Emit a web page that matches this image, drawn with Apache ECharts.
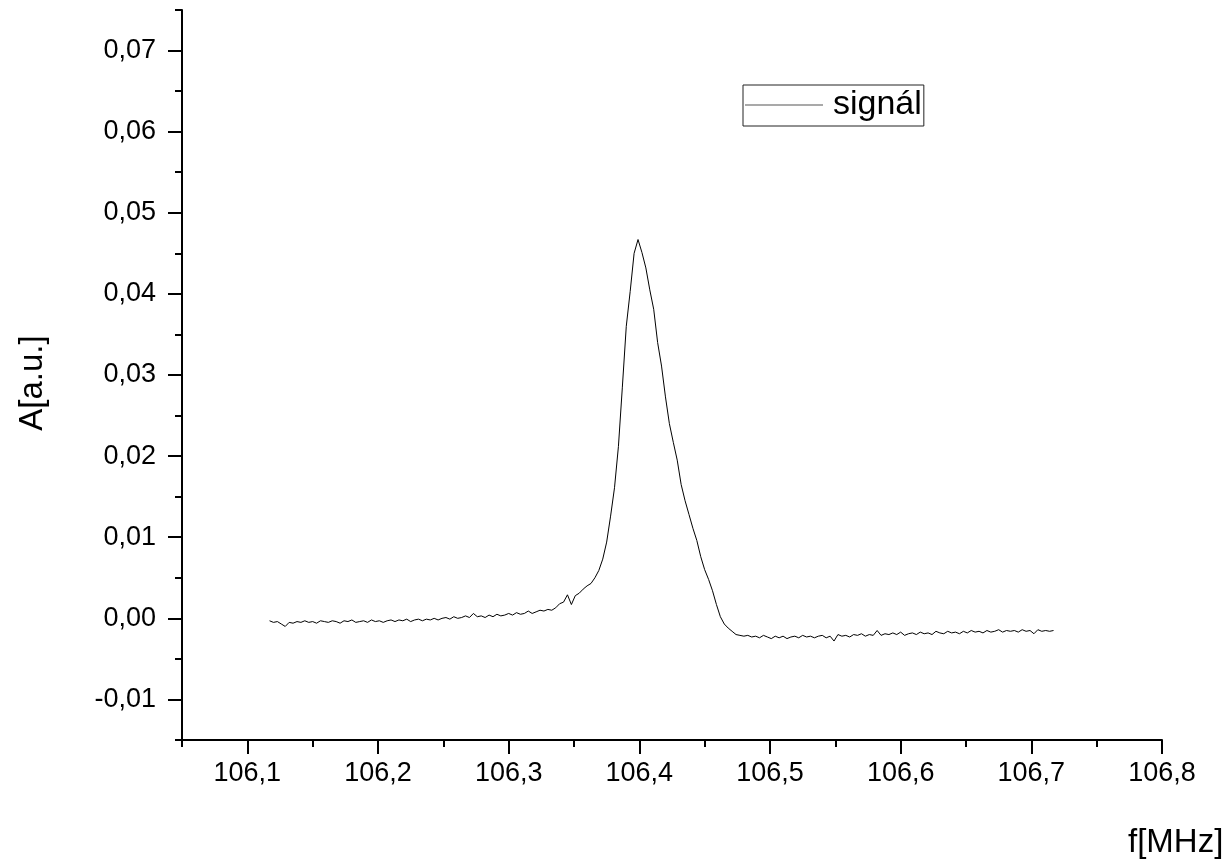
<!DOCTYPE html>
<html>
<head>
<meta charset="utf-8">
<script src="https://cdn.jsdelivr.net/npm/echarts@6/dist/echarts.min.js"></script>
<style>
html,body{margin:0;padding:0;background:#fff;}
#chart{width:1231px;height:862px;}
</style>
</head>
<body>
<div id="chart"></div>
<script>
// Frequency samples (MHz)
var freq = [
106.117,106.120,106.123,106.126,106.129,106.132,106.135,106.138,106.141,106.144,
106.147,106.150,106.153,106.156,106.159,106.162,106.165,106.168,106.171,106.174,
106.177,106.180,106.183,106.186,106.189,106.192,106.195,106.198,106.201,106.204,
106.207,106.210,106.213,106.216,106.219,106.222,106.225,106.228,106.231,106.234,
106.237,106.240,106.243,106.246,106.249,106.252,106.255,106.258,106.261,106.264,
106.267,106.270,106.273,106.276,106.279,106.282,106.285,106.288,106.291,106.294,
106.297,106.300,106.303,106.306,106.309,106.312,106.315,106.318,106.321,106.324,
106.327,106.330,106.333,106.336,106.339,106.342,106.345,106.348,106.351,106.354,
106.357,106.360,106.363,106.366,106.369,106.372,106.375,106.378,106.381,106.384,
106.387,106.390,106.393,106.396,106.399,106.402,106.405,106.408,106.411,106.414,
106.417,106.420,106.423,106.426,106.429,106.432,106.435,106.438,106.441,106.444,
106.447,106.450,106.453,106.456,106.459,106.462,106.465,106.468,106.471,106.474,
106.477,106.480,106.483,106.486,106.489,106.492,106.495,106.498,106.501,106.504,
106.507,106.510,106.513,106.516,106.519,106.522,106.525,106.528,106.531,106.534,
106.537,106.540,106.543,106.546,106.549,106.552,106.555,106.558,106.561,106.564,
106.567,106.570,106.573,106.576,106.579,106.582,106.585,106.588,106.591,106.594,
106.597,106.600,106.603,106.606,106.609,106.612,106.615,106.618,106.621,106.624,
106.627,106.630,106.633,106.636,106.639,106.642,106.645,106.648,106.651,106.654,
106.657,106.660,106.663,106.666,106.669,106.672,106.675,106.678,106.681,106.684,
106.687,106.690,106.693,106.696,106.699,106.702,106.705,106.708,106.711,106.714,
106.717
];
// Signal amplitude (a.u.)
var signal = [
-0.0003,-0.0005,-0.0004,-0.0007,-0.0010,-0.0005,-0.0006,-0.0004,-0.0005,-0.0003,
-0.0005,-0.0004,-0.0006,-0.0003,-0.0004,-0.0005,-0.0003,-0.0004,-0.0006,-0.0003,
-0.0004,-0.0002,-0.0005,-0.0004,-0.0003,-0.0005,-0.0002,-0.0004,-0.0003,-0.0005,
-0.0003,-0.0002,-0.0004,-0.0002,-0.0003,-0.0001,-0.0004,-0.0002,-0.0001,-0.0003,
-0.0001,-0.0002,0.0000,-0.0002,0.0000,0.0001,-0.0001,0.0002,0.0000,0.0001,
0.0003,0.0001,0.0006,0.0002,0.0003,0.0001,0.0004,0.0002,0.0005,0.0003,
0.0004,0.0006,0.0004,0.0007,0.0005,0.0006,0.0009,0.0006,0.0008,0.0010,
0.0009,0.0011,0.0010,0.0013,0.0018,0.0020,0.0029,0.0017,0.0028,0.0031,
0.0036,0.0040,0.0043,0.0050,0.0059,0.0073,0.0094,0.0126,0.0161,0.0212,
0.0285,0.0360,0.0403,0.0450,0.0467,0.0451,0.0432,0.0405,0.0381,0.0340,
0.0311,0.0273,0.0240,0.0217,0.0195,0.0165,0.0145,0.0128,0.0111,0.0096,
0.0076,0.0060,0.0048,0.0034,0.0017,0.0002,-0.0007,-0.0012,-0.0016,-0.0020,
-0.0021,-0.0022,-0.0021,-0.0023,-0.0022,-0.0024,-0.0021,-0.0023,-0.0025,-0.0022,
-0.0024,-0.0022,-0.0025,-0.0023,-0.0022,-0.0024,-0.0021,-0.0023,-0.0022,-0.0024,
-0.0022,-0.0021,-0.0024,-0.0022,-0.0028,-0.0020,-0.0022,-0.0021,-0.0023,-0.0020,
-0.0021,-0.0019,-0.0022,-0.0020,-0.0021,-0.0015,-0.0021,-0.0019,-0.0020,-0.0018,
-0.0020,-0.0017,-0.0021,-0.0019,-0.0018,-0.0020,-0.0017,-0.0019,-0.0018,-0.0020,
-0.0016,-0.0018,-0.0019,-0.0016,-0.0018,-0.0017,-0.0019,-0.0016,-0.0018,-0.0015,
-0.0017,-0.0016,-0.0018,-0.0015,-0.0017,-0.0016,-0.0014,-0.0017,-0.0015,-0.0016,
-0.0015,-0.0017,-0.0014,-0.0016,-0.0015,-0.0019,-0.0014,-0.0016,-0.0015,-0.0016,
-0.0015
];
var xMajorTicks = [106.1,106.2,106.3,106.4,106.5,106.6,106.7,106.8];
var xMinorTicks = [106.05,106.15,106.25,106.35,106.45,106.55,106.65,106.75];
var yMajorTicks = [-0.01,0,0.01,0.02,0.03,0.04,0.05,0.06,0.07];
var yMinorTicks = [-0.015,-0.005,0.005,0.015,0.025,0.035,0.045,0.055,0.065,0.075];

var FONT = "'Liberation Sans', Arial, sans-serif";
var points = freq.map(function (f, i) { return [f, signal[i]]; });

var chart = echarts.init(document.getElementById('chart'), null, {renderer: 'canvas'});
chart.setOption({
  backgroundColor: '#fff',
  animation: false,
  grid: {left: 182, right: 69, top: 10, bottom: 122, containLabel: false},
  legend: {
    data: [{name: 'signál', icon: 'rect'}],
    left: 743, top: 85,
    orient: 'vertical',
    itemWidth: 78, itemHeight: 1,
    padding: [3, 2, 4, 2],
    borderColor: '#222', borderWidth: 1,
    itemStyle: {color: '#555'},
    textStyle: {fontFamily: FONT, fontSize: 34, color: '#000', padding: [0, 0, 0, 5]}
  },
  xAxis: [{
    type: 'value', min: 106.05, max: 106.8, position: 'bottom',
    axisLine: {show: true, onZero: false, lineStyle: {color: '#000', width: 2}},
    axisTick: {show: true, inside: false, length: 14, customValues: xMajorTicks, lineStyle: {color: '#000', width: 2}},
    axisLabel: {customValues: xMajorTicks, margin: 20, fontFamily: FONT, fontSize: 27, color: '#000',
      formatter: function (v) { return v.toFixed(1).replace('.', ','); }},
    splitLine: {show: false}
  }, {
    type: 'value', min: 106.05, max: 106.8, position: 'bottom', gridIndex: 0,
    axisLine: {show: false, onZero: false},
    axisTick: {show: true, inside: false, length: 7, customValues: xMinorTicks, lineStyle: {color: '#000', width: 2}},
    axisLabel: {show: false},
    splitLine: {show: false}
  }],
  yAxis: [{
    type: 'value', min: -0.015, max: 0.075, position: 'left',
    axisLine: {show: true, onZero: false, lineStyle: {color: '#000', width: 2}},
    axisTick: {show: true, inside: false, length: 14, customValues: yMajorTicks, lineStyle: {color: '#000', width: 2}},
    axisLabel: {customValues: yMajorTicks, margin: 26, fontFamily: FONT, fontSize: 27, color: '#000',
      formatter: function (v) { return v.toFixed(2).replace('.', ','); }},
    splitLine: {show: false}
  }, {
    type: 'value', min: -0.015, max: 0.075, position: 'left', gridIndex: 0,
    axisLine: {show: false, onZero: false},
    axisTick: {show: true, inside: false, length: 7, customValues: yMinorTicks, lineStyle: {color: '#000', width: 2}},
    axisLabel: {show: false},
    splitLine: {show: false}
  }],
  graphic: [
    {type: 'text', left: 1128, top: 826, style: {text: 'f[MHz]', font: '33px ' + FONT, fill: '#000'}},
    {type: 'text', x: 33, y: 383, rotation: Math.PI / 2,
     style: {text: 'A[a.u.]', font: '33px ' + FONT, fill: '#000', align: 'center', verticalAlign: 'middle'}}
  ],
  series: [{
    name: 'signál', type: 'line', xAxisIndex: 0, yAxisIndex: 0,
    data: points, symbol: 'none', showSymbol: false,
    lineStyle: {color: '#000', width: 1},
    itemStyle: {color: '#000'}
  }]
});
</script>
</body>
</html>
